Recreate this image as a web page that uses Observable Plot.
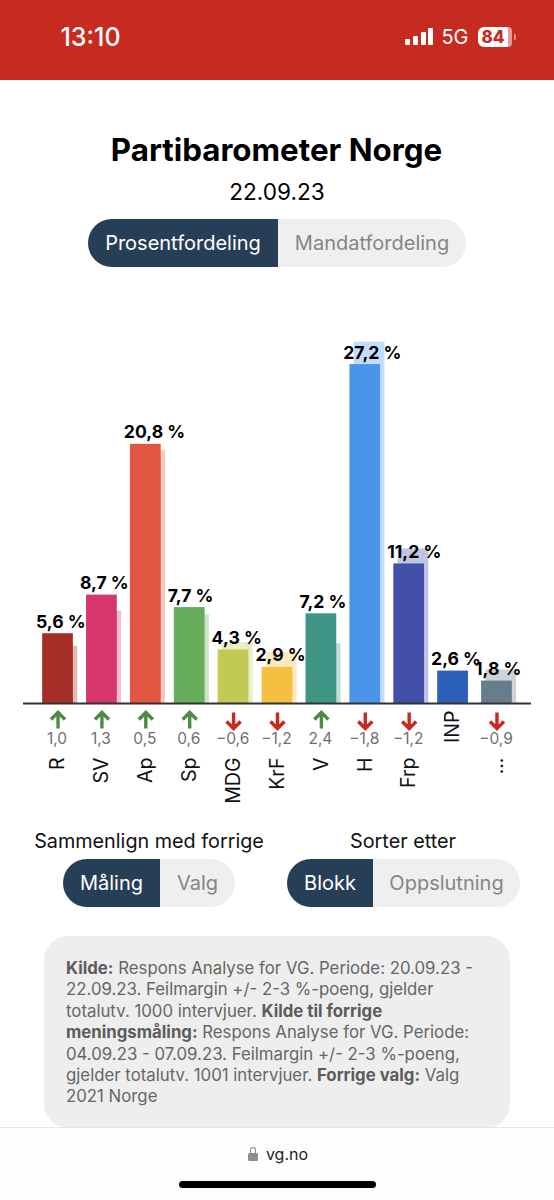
<!DOCTYPE html>
<html lang="no">
<head>
<meta charset="utf-8">
<script src="https://cdn.jsdelivr.net/npm/d3@7"></script>
<script src="https://cdn.jsdelivr.net/npm/@observablehq/plot@0.6"></script>
<style>
html,body{margin:0;padding:0;background:#fff;width:554px;height:1200px;overflow:hidden;font-family:Inter,sans-serif}
.a{position:absolute}
.c{position:absolute;text-align:center;white-space:nowrap;transform:translate(-50%,-50%)}
.pill{position:absolute;display:flex;border-radius:24px;overflow:hidden;background:#efefef;font-size:20px;line-height:48px;height:48px;color:#858585;text-align:center}
.pill .on{background:#263f57;color:#fff}
.note{position:absolute;left:66px;top:958px;font-size:16.8px;line-height:21.4px;color:#666;white-space:nowrap}
.note b{font-weight:700;color:#5c5c5c}
#chart{position:absolute;left:0;top:320px}
#chart svg{display:block;overflow:visible}
</style>
</head>
<body>
<div class="a" style="left:0;top:0;width:554px;height:80px;background:#c72a1e"></div>
<div class="c" style="left:90.5px;top:37px;font-size:25px;font-weight:500;color:#fff">13:10</div>
<div class="a" style="left:405px;top:39px;width:5px;height:6px;background:#fff;border-radius:1px"></div>
<div class="a" style="left:413px;top:36px;width:5px;height:9px;background:#fff;border-radius:1px"></div>
<div class="a" style="left:421px;top:32px;width:5px;height:13px;background:#fff;border-radius:1px"></div>
<div class="a" style="left:428px;top:28px;width:5px;height:17px;background:#fff;border-radius:1px"></div>
<div class="c" style="left:455px;top:37px;font-size:20px;color:#fff">5G</div>
<div class="a" style="left:478px;top:27px;width:34px;height:20px;background:#fff;border-radius:6px"></div>
<div class="a" style="left:508px;top:27px;width:4px;height:20px;background:#e59a93;border-radius:0 6px 6px 0"></div>
<div class="a" style="left:514px;top:34px;width:2px;height:6px;background:#e59a93;border-radius:0 2px 2px 0"></div>
<div class="c" style="left:493px;top:37px;font-size:17px;font-weight:800;color:#c72a1e">84</div>

<div class="c" style="left:276.5px;top:150px;font-size:31.3px;font-weight:700;color:#000">Partibarometer Norge</div>
<div class="c" style="left:277px;top:191px;font-size:22.6px;color:#000">22.09.23</div>
<div class="pill" style="left:88px;top:219px;width:378px">
  <div class="on" style="width:190px">Prosentfordeling</div><div style="width:188px">Mandatfordeling</div>
</div>

<div id="chart"></div>

<div class="c" style="left:149px;top:841px;font-size:19.8px;color:#111">Sammenlign med forrige</div>
<div class="c" style="left:403px;top:841px;font-size:19.8px;color:#111">Sorter etter</div>
<div class="pill" style="left:63px;top:859px;width:172px">
  <div class="on" style="width:97px">Måling</div><div style="width:75px">Valg</div>
</div>
<div class="pill" style="left:287px;top:859px;width:233px">
  <div class="on" style="width:86px">Blokk</div><div style="width:147px">Oppslutning</div>
</div>

<div class="a" style="left:44px;top:936px;width:466px;height:192px;background:#eeeeee;border-radius:24px"></div>
<div class="note"><b>Kilde:</b> Respons Analyse for VG. Periode: 20.09.23 -<br>22.09.23. Feilmargin +/- 2-3 %-poeng, gjelder<br>totalutv. 1000 intervjuer. <b>Kilde til forrige</b><br><b>meningsmåling:</b> Respons Analyse for VG. Periode:<br>04.09.23 - 07.09.23. Feilmargin +/- 2-3 %-poeng,<br>gjelder totalutv. 1001 intervjuer. <b>Forrige valg:</b> Valg<br>2021 Norge</div>

<div class="a" style="left:0;top:1127px;width:554px;height:73px;background:#fdfdfd;border-top:1px solid #e6e6e6"></div>
<div class="a" style="left:248px;top:1153px;width:10px;height:8px;background:#8e8e8e;border-radius:1.5px"></div>
<div class="a" style="left:250px;top:1147px;width:4px;height:6px;border:1.5px solid #8e8e8e;border-bottom:0;border-radius:3px 3px 0 0"></div>
<div class="c" style="left:287px;top:1154px;font-size:16px;color:#222">vg.no</div>
<div class="a" style="left:179px;top:1181px;width:197px;height:7px;background:#000;border-radius:4px"></div>

<script>
const parties  = ["R","SV","Ap","Sp","MDG","KrF","V","H","Frp","INP","..."];
const current  = [5.6,8.7,20.8,7.7,4.3,2.9,7.2,27.2,11.2,2.6,1.8];
const previous = [4.6,7.4,20.3,7.1,4.9,4.1,4.8,29.0,12.4,null,2.7];
const changes  = [1.0,1.3,0.5,0.6,-0.6,-1.2,2.4,-1.8,-1.2,null,-0.9];
const colors   = ["#a52f26","#d6366c","#e25540","#66ae5b","#c2ca55","#f5bf3f","#3f9586","#4a94ea","#414fa9","#2c5fb7","#667d8b"];

const comma = v => Math.abs(v).toFixed(1).replace(".", ",");
const rows = parties.map((party, i) => ({party, value: current[i], prev: previous[i], change: changes[i]}));
const withChange = rows.filter(d => d.change !== null);
const arrowShape = {draw(ctx, l) {
  const w = 7;
  ctx.moveTo(0, 0); ctx.lineTo(0, -l);
  ctx.moveTo(-w, w - l); ctx.lineTo(0, -l); ctx.lineTo(w, w - l);
}};
const arrows = (data, rotate, stroke) => Plot.vector(data, {
  x: "party", y: () => 0, dy: 17, length: 16, rotate, anchor: "middle",
  stroke, strokeWidth: 3.4, shape: arrowShape, strokeLinejoin: "miter", strokeLinecap: "butt"
});

const chart = Plot.plot({
  width: 554, height: 480,
  marginLeft: 29, marginRight: 29, marginTop: 0, marginBottom: 0,
  x: {domain: parties, padding: 0.3, round: false, axis: null},
  y: {domain: [-7.785, 30.74], axis: null},
  color: {domain: parties, range: colors},
  style: {fontFamily: "Inter, sans-serif", background: "transparent", overflow: "visible"},
  marks: [
    Plot.barY(rows, {x: "party", y: "prev", fill: "party", fillOpacity: 0.33, dx: 4.3}),
    Plot.barY(rows, {x: "party", y: "value", fill: "party"}),
    Plot.ruleY([0], {stroke: "#333", strokeWidth: 2, insetLeft: -6, insetRight: -6}),
    Plot.text(rows, {x: "party", y: "value", text: d => comma(d.value) + " %",
      textAnchor: "start", lineAnchor: "bottom", dx: -22, dy: -6,
      fontSize: 17.6, fontWeight: 700, fill: "#000"}),
    arrows(withChange.filter(d => d.change > 0), 0, "#4f8a45"),
    arrows(withChange.filter(d => d.change < 0), 180, "#c9291e"),
    Plot.text(withChange, {x: "party", y: () => 0, dy: 36, dx: -1,
      text: d => (d.change < 0 ? "−" : "") + comma(d.change),
      fontSize: 15.5, fill: "#6f6f6f"}),
    Plot.text(rows.filter(d => d.change !== null), {x: "party", y: () => 0, dy: 54, text: "party",
      rotate: -90, textAnchor: "end", fontSize: 19.5, fill: "#111"}),
    Plot.text(rows.filter(d => d.change === null), {x: "party", y: () => 0, dy: 7, text: "party",
      rotate: -90, textAnchor: "end", fontSize: 19.5, fill: "#111"})
  ]
});
document.getElementById("chart").appendChild(chart);
</script>
</body>
</html>
